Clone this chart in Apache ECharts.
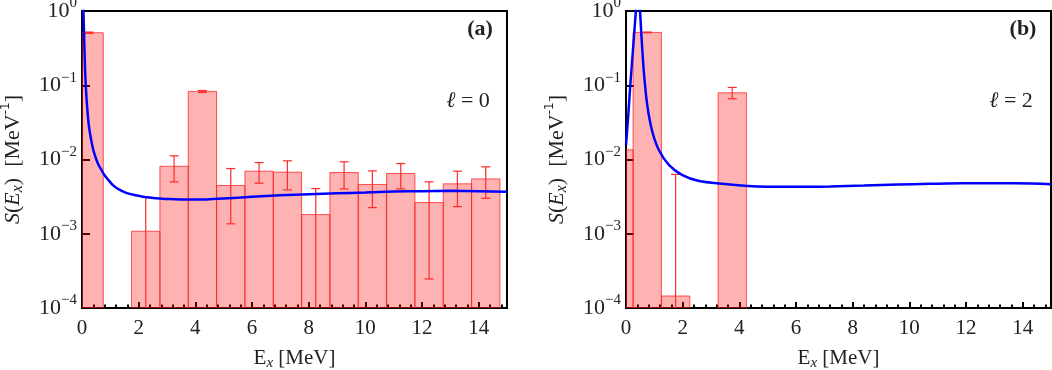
<!DOCTYPE html>
<html>
<head>
<meta charset="utf-8">
<script src="https://cdn.jsdelivr.net/npm/echarts@6/dist/echarts.min.js"></script>
<style>
  html, body { margin: 0; padding: 0; background: #fff; }
  #chart { width: 1052px; height: 370px; }
</style>
</head>
<body>
<div id="chart"></div>
<script>
// panel (a), l = 0 : histogram bins of 1 MeV
var centersA = [0.25, 2.25, 3.25, 4.25, 5.25, 6.25, 7.25, 8.25, 9.25, 10.25, 11.25, 12.25, 13.25, 14.25];
var valuesA  = [0.51, 1.08e-3, 8.1e-3, 0.0826, 4.46e-3, 6.96e-3, 6.75e-3, 1.81e-3, 6.68e-3, 4.6e-3, 6.47e-3, 2.63e-3, 4.7e-3, 5.48e-3];
var errLoA   = [0.50, null, 5.0e-3, 0.080, 1.36e-3, 4.8e-3, 3.9e-3, null, 4.02e-3, 2.25e-3, 4.02e-3, 2.46e-4, 2.32e-3, 3.01e-3];
var errHiA   = [0.52, 3.14e-3, 1.12e-2, 0.085, 7.56e-3, 9.1e-3, 9.6e-3, 4.06e-3, 9.3e-3, 7.03e-3, 8.83e-3, 5.0e-3, 6.96e-3, 7.96e-3];

// panel (b), l = 2
var centersB = [-0.25, 0.75, 1.75, 3.75];
var valuesB  = [0.0135, 0.515, 1.45e-4, 0.079];
var errLoB   = [0.0135, 0.51, null, 0.0658];
var errHiB   = [0.0135, 0.52, 6.3e-3, 0.0935];

// theory curves (blue)
var curveXA = [0.02, 0.05, 0.077, 0.11, 0.16, 0.24, 0.36, 0.45, 0.56, 0.68, 0.79, 0.93, 1.09, 1.3, 1.56, 1.85, 2.15, 2.45, 2.74, 3.1, 3.5, 4.0, 4.4, 5, 6, 7, 8, 9, 10, 11, 12, 13, 14, 15];
var curveYA = [1.5, 0.98, 0.43, 0.152, 0.0665, 0.0291, 0.0156, 0.0115, 0.00885, 0.0073, 0.00617, 0.0053, 0.00452, 0.00395, 0.00356, 0.00332, 0.00316, 0.00306, 0.00299, 0.00293, 0.0029, 0.00289, 0.0029, 0.00298, 0.00314, 0.0033, 0.0034, 0.0035, 0.0036, 0.0037, 0.00375, 0.00378, 0.00375, 0.00367];
var curveXB = [0, 0.08, 0.16, 0.25, 0.32, 0.37, 0.43, 0.49, 0.55, 0.63, 0.75, 0.93, 1.16, 1.52, 1.99, 2.58, 3.4, 4.3, 5, 6, 7.2, 8.4, 9.6, 10.7, 11.9, 13.1, 14.3, 15];
var curveYB = [0.0156, 0.0397, 0.112, 0.314, 0.72, 1.3, 3.0, 1.1, 0.43, 0.152, 0.054, 0.0236, 0.0134, 0.0084, 0.00617, 0.00513, 0.0047, 0.0044, 0.0043, 0.00428, 0.00434, 0.00446, 0.0046, 0.0047, 0.0048, 0.0048, 0.00475, 0.00465];

var YMIN = 1e-4, YMAX = 1;
var FONT = 'Liberation Serif';
var FS = 21;

function zip(a, b, c, d) {
    return a.map(function (v, i) {
        var row = [v, b[i]];
        if (c) row.push(c[i] == null ? '-' : c[i]);
        if (d) row.push(d[i]);
        return row;
    });
}

function renderBar(params, api) {
    var c = api.value(0), v = api.value(1);
    var p1 = api.coord([c - 0.5, v]);
    var p2 = api.coord([c + 0.5, YMIN]);
    var rect = echarts.graphic.clipRectByRect({
        x: p1[0], y: p1[1], width: p2[0] - p1[0], height: p2[1] - p1[1]
    }, params.coordSys);
    if (!rect) return;
    return {
        type: 'rect',
        shape: rect,
        style: { fill: 'rgba(255,0,0,0.3)', stroke: 'rgba(255,30,30,0.75)', lineWidth: 1 }
    };
}

function renderErr(params, api) {
    var c = api.value(0), lo = api.value(2), hi = api.value(3);
    if (c < 0) return;
    var hasLo = !isNaN(lo);
    if (!hasLo) lo = YMIN;
    var top = api.coord([c, hi]), bot = api.coord([c, lo]);
    var st = { stroke: '#ff2a2a', lineWidth: 1.2 };
    var kids = [
        { type: 'line', shape: { x1: top[0], y1: top[1], x2: bot[0], y2: bot[1] }, style: st },
        { type: 'line', shape: { x1: top[0] - 4.5, y1: top[1], x2: top[0] + 4.5, y2: top[1] }, style: st }
    ];
    if (hasLo) {
        kids.push({ type: 'line', shape: { x1: bot[0] - 4.5, y1: bot[1], x2: bot[0] + 4.5, y2: bot[1] }, style: st });
    }
    return { type: 'group', children: kids };
}

function yLabel(v) {
    var e = Math.round(Math.log10(v));
    return '{b|10}{s|' + (e < 0 ? '\u2212' + (-e) : e) + '}';
}

function xAxisCfg(idx) {
    return {
        type: 'value', gridIndex: idx, min: 0, max: 15, interval: 2,
        name: '{n|E}{sub|x}{n| [MeV]}',
        nameLocation: 'middle', nameGap: 38,
        nameTextStyle: {
            rich: {
                n: { fontFamily: FONT, fontSize: FS, color: '#222' },
                sub: { fontFamily: FONT, fontSize: 15, fontStyle: 'italic', color: '#222', padding: [10, 0, 0, 0] }
            }
        },
        axisLine: { show: true, onZero: false, lineStyle: { color: '#000', width: 2 } },
        axisTick: { show: true, inside: true, length: 6, lineStyle: { color: '#000', width: 2 } },
        minorTick: { show: true, splitNumber: 5, length: 3.5, lineStyle: { color: '#000', width: 2 } },
        splitLine: { show: false },
        axisLabel: { showMaxLabel: false, fontFamily: FONT, fontSize: FS, color: '#222', margin: 10 }
    };
}

function yAxisCfg(idx) {
    return {
        type: 'log', gridIndex: idx, logBase: 10, min: YMIN, max: YMAX,
        name: '{i|S}{n|(}{i|E}{sub|x}{n|)  [MeV}{sup|-1}{n|]}',
        nameLocation: 'middle', nameGap: 56, nameRotate: 90,
        nameTextStyle: {
            rich: {
                n: { fontFamily: FONT, fontSize: 22, color: '#222' },
                i: { fontFamily: FONT, fontSize: 22, fontStyle: 'italic', color: '#222' },
                sub: { fontFamily: FONT, fontSize: 16, fontStyle: 'italic', color: '#222', padding: [10, 0, 0, 0] },
                sup: { fontFamily: 'DejaVu Sans', fontSize: 12, color: '#222', padding: [0, 0, 14, 0] }
            }
        },
        axisLine: { show: true, onZero: false, lineStyle: { color: '#000', width: 2 } },
        axisTick: { show: true, inside: true, length: 8, lineStyle: { color: '#000', width: 2 } },
        minorTick: { show: false },
        splitLine: { show: false },
        axisLabel: {
            formatter: yLabel, margin: 5,
            rich: {
                b: { fontFamily: FONT, fontSize: 22, color: '#222' },
                s: { fontFamily: FONT, fontSize: 15, color: '#222', padding: [0, 0, 15, 0] }
            }
        }
    };
}

var myChart = echarts.init(document.getElementById('chart'), null, { renderer: 'canvas' });
var option = {
    animation: false,
    grid: [
        { left: 82, top: 11, width: 425, height: 297, outerBoundsMode: 'none', containLabel: false,
          show: true, borderColor: '#000', borderWidth: 2, backgroundColor: 'transparent' },
        { left: 626, top: 11, width: 425, height: 297, outerBoundsMode: 'none', containLabel: false,
          show: true, borderColor: '#000', borderWidth: 2, backgroundColor: 'transparent' }
    ],
    xAxis: [xAxisCfg(0), xAxisCfg(1)],
    yAxis: [yAxisCfg(0), yAxisCfg(1)],
    series: [
        { type: 'custom', xAxisIndex: 0, yAxisIndex: 0, renderItem: renderBar, clip: true,
          encode: { x: 0, y: 1 }, data: zip(centersA, valuesA) },
        { type: 'custom', xAxisIndex: 0, yAxisIndex: 0, renderItem: renderErr, clip: true,
          encode: { x: 0, y: [1, 3] }, data: zip(centersA, valuesA, errLoA, errHiA) },
        { type: 'line', xAxisIndex: 0, yAxisIndex: 0, showSymbol: false, clip: true, smooth: 0.25,
          lineStyle: { color: '#0000ff', width: 2.5 }, data: zip(curveXA, curveYA) },

        { type: 'custom', xAxisIndex: 1, yAxisIndex: 1, renderItem: renderBar, clip: true,
          encode: { x: 0, y: 1 }, data: zip(centersB, valuesB) },
        { type: 'custom', xAxisIndex: 1, yAxisIndex: 1, renderItem: renderErr, clip: true,
          encode: { x: 0, y: [1, 3] }, data: zip(centersB, valuesB, errLoB, errHiB) },
        { type: 'line', xAxisIndex: 1, yAxisIndex: 1, showSymbol: false, clip: true, smooth: 0.25,
          lineStyle: { color: '#0000ff', width: 2.5 }, data: zip(curveXB, curveYB) }
    ],
    graphic: [
        { type: 'text', x: 480, y: 29, style: { text: '(a)', font: 'bold 22px "Liberation Serif"', fill: '#222', align: 'center', verticalAlign: 'middle' } },
        { type: 'text', x: 468, y: 101, style: { text: '{i|\u2113} = 0', font: '22px "Liberation Serif"', fill: '#222', align: 'center', verticalAlign: 'middle',
          rich: { i: { fontStyle: 'italic', fontFamily: FONT, fontSize: 22, fill: '#222' } } } },
        { type: 'text', x: 1023, y: 29, style: { text: '(b)', font: 'bold 22px "Liberation Serif"', fill: '#222', align: 'center', verticalAlign: 'middle' } },
        { type: 'text', x: 1011, y: 101, style: { text: '{i|\u2113} = 2', font: '22px "Liberation Serif"', fill: '#222', align: 'center', verticalAlign: 'middle',
          rich: { i: { fontStyle: 'italic', fontFamily: FONT, fontSize: 22, fill: '#222' } } } }
    ]
};
myChart.setOption(option);
</script>
</body>
</html>
